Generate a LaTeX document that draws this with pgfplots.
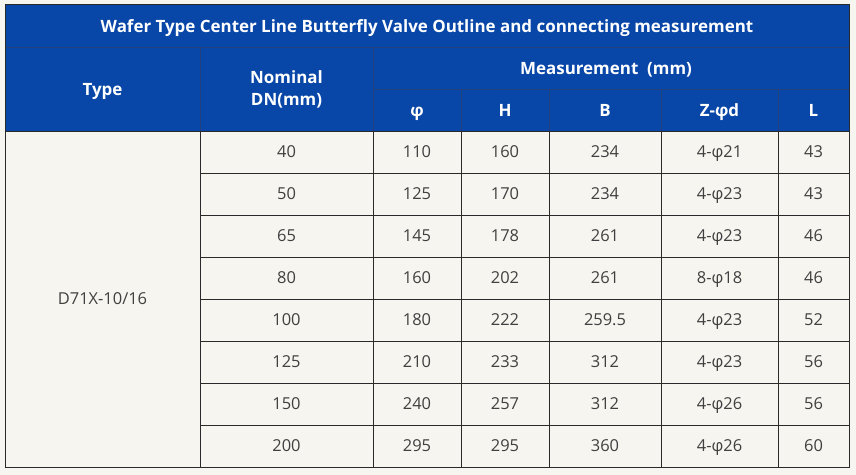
\documentclass[border=0pt]{standalone}
\usepackage{fontspec}
\setmainfont{Open Sans}
\usepackage{pgfplots}
\usepackage{pgfplotstable}
\pgfplotsset{compat=1.18}
\definecolor{hdr}{HTML}{0846A7}
\definecolor{bg}{HTML}{F7F5F0}
\definecolor{ln}{HTML}{2A2A2A}
\definecolor{hln}{HTML}{22407C}
\definecolor{txt}{HTML}{404040}

\pgfplotstableread[col sep=comma]{
x,y,t
102.5,299,D71X-10/16
286.5,152,40
286.5,194,50
286.5,236,65
286.5,278,80
286.5,320,100
286.5,362,125
286.5,404,150
286.5,446,200
417,152,110
417,194,125
417,236,145
417,278,160
417,320,180
417,362,210
417,404,240
417,446,295
505,152,160
505,194,170
505,236,178
505,278,202
505,320,222
505,362,233
505,404,257
505,446,295
605,152,234
605,194,234
605,236,261
605,278,261
605,320,259.5
605,362,312
605,404,312
605,446,360
719.5,152,4-φ21
719.5,194,4-φ23
719.5,236,4-φ23
719.5,278,8-φ18
719.5,320,4-φ23
719.5,362,4-φ23
719.5,404,4-φ26
719.5,446,4-φ26
813.5,152,43
813.5,194,43
813.5,236,46
813.5,278,46
813.5,320,52
813.5,362,56
813.5,404,56
813.5,446,60
}\cells

\tikzset{hd/.style={text=white,font=\fontsize{17}{20}\selectfont\bfseries,text height=12.2bp,text depth=0pt,inner sep=0pt}}

\begin{document}
\begin{tikzpicture}
\begin{axis}[width=856bp,height=475bp,scale only axis,
  xmin=0,xmax=856,ymin=0,ymax=475,y dir=reverse,
  axis lines=none,clip=false,enlargelimits=false]
\fill[bg] (axis cs:0,0) rectangle (axis cs:856,475);
\fill[hdr] (axis cs:5,5) rectangle (axis cs:849,131);
% header lines
\draw[hln,line width=1pt] (axis cs:5,47) -- (axis cs:849,47);
\draw[hln,line width=1pt] (axis cs:373,89) -- (axis cs:849,89);
\pgfplotsinvokeforeach{200,373}{\draw[hln,line width=1pt] (axis cs:#1,47) -- (axis cs:#1,131);}
\pgfplotsinvokeforeach{461,549,661,778}{\draw[hln,line width=1pt] (axis cs:#1,89) -- (axis cs:#1,131);}
% body lines
\pgfplotsinvokeforeach{173,215,257,299,341,383,425}{\draw[ln,line width=1pt] (axis cs:200,#1) -- (axis cs:849,#1);}
\pgfplotsinvokeforeach{200,373,461,549,661,778}{\draw[ln,line width=1pt] (axis cs:#1,131) -- (axis cs:#1,467);}
\draw[ln,line width=1pt] (axis cs:5,131) -- (axis cs:849,131);
\draw[ln,line width=1pt] (axis cs:5,5) rectangle (axis cs:849,467);
% header text
\node[hd] at (axis cs:427,26) {Wafer Type Center Line Butterfly Valve Outline and connecting measurement};
\node[hd] at (axis cs:102.5,89) {Type};
\node[text=white,font=\fontsize{17}{22}\selectfont\bfseries,align=center] at (axis cs:286.5,89) {Nominal\\DN(mm)};
\node[hd] at (axis cs:606,68) {Measurement\ \ (mm)};
\node[hd] at (axis cs:417,110) {φ};
\node[hd] at (axis cs:505,110) {H};
\node[hd] at (axis cs:605,110) {B};
\node[hd] at (axis cs:719.5,110) {Z-φd};
\node[hd] at (axis cs:813.5,110) {L};
% cells
\addplot[draw=none,mark=none,nodes near coords,point meta=explicit symbolic,
  every node near coord/.append style={anchor=center,text=txt,inner sep=0pt,
    text height=11.5bp,text depth=0pt,font=\fontsize{16.5}{19}\selectfont}]
  table[x=x,y=y,meta=t]{\cells};
\end{axis}
\end{tikzpicture}
\end{document}
